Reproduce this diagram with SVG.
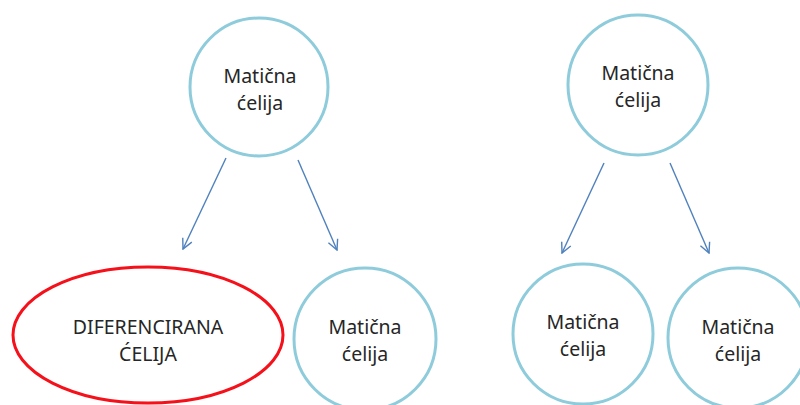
<svg xmlns="http://www.w3.org/2000/svg" width="800" height="405" viewBox="0 0 800 405">
<defs>
<marker id="arr" viewBox="0 0 12 12" refX="11" refY="6" markerWidth="12" markerHeight="12" markerUnits="userSpaceOnUse" orient="auto">
<path d="M1,1 L11,6 L1,11" fill="none" stroke="#4F81BD" stroke-width="1.4"/>
</marker>
</defs>
<style>
.cell{fill:#fff;stroke:#8ECBDB;stroke-width:3}
.diff{fill:#fff;stroke:#F5101A;stroke-width:3}
.t{font-family:"Noto Sans","Open Sans",sans-serif;font-size:19.5px;fill:#262626;text-anchor:middle}
.c{stroke:#4F81BD;stroke-width:1.4;fill:none;marker-end:url(#arr)}
</style>
<rect width="800" height="405" fill="#fff"/>
<g id="connectors">
<line class="c" x1="226" y1="158" x2="183" y2="249"/>
<line class="c" x1="298" y1="160" x2="337" y2="250"/>
<line class="c" x1="604" y1="163" x2="562" y2="253"/>
<line class="c" x1="670" y1="163" x2="709" y2="253"/>
</g>
<g id="top-left">
<circle class="cell" cx="259" cy="87" r="69"/>
<text class="t" x="260" y="83">Matična</text>
<text class="t" x="260" y="110">ćelija</text>
</g>
<g id="top-right">
<circle class="cell" cx="638" cy="85" r="70"/>
<text class="t" x="638" y="80">Matična</text>
<text class="t" x="638" y="107">ćelija</text>
</g>
<g id="differentiated">
<ellipse class="diff" cx="148" cy="335" rx="135" ry="68"/>
<text class="t" x="148" y="334">DIFERENCIRANA</text>
<text class="t" x="148" y="361">ĆELIJA</text>
</g>
<g id="bottom-mid">
<circle class="cell" cx="365" cy="339" r="71"/>
<text class="t" x="365" y="334">Matična</text>
<text class="t" x="365" y="361">ćelija</text>
</g>
<g id="bottom-right-1">
<circle class="cell" cx="583" cy="334" r="70"/>
<text class="t" x="583" y="329">Matična</text>
<text class="t" x="583" y="356">ćelija</text>
</g>
<g id="bottom-right-2">
<circle class="cell" cx="738" cy="338" r="70"/>
<text class="t" x="738" y="334">Matična</text>
<text class="t" x="738" y="361">ćelija</text>
</g>
</svg>
